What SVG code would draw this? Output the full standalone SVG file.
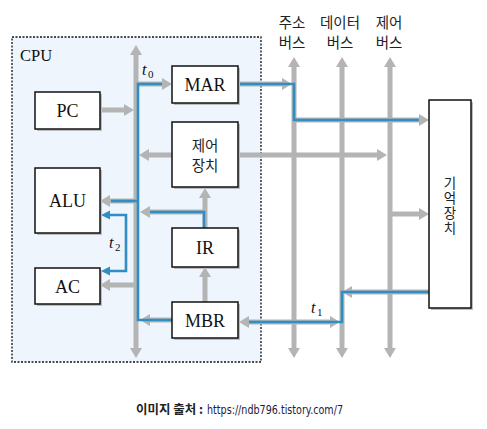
<svg xmlns="http://www.w3.org/2000/svg" width="487" height="429" viewBox="0 0 487 429">
<defs>
<style>
.box{fill:#fff;stroke:#111;stroke-width:1.5}
.sh{fill:#bdbdbd}
.g{stroke:#b4b4b4;stroke-width:5;fill:none}
.b{stroke:#2f8fc4;stroke-width:2.6;fill:none;stroke-linejoin:miter}
.lbl{font-family:"Liberation Serif","DejaVu Serif",serif;font-size:18px;fill:#111;text-anchor:middle}
.cpu{font-family:"Liberation Serif","DejaVu Serif",serif;font-size:16.5px;fill:#111}
.kr{font-family:"Noto Sans CJK KR","Noto Sans",sans-serif;font-size:14.5px;fill:#222;text-anchor:middle}
.mem{font-family:"Noto Sans CJK KR","Noto Sans",sans-serif;font-size:13.5px;fill:#222;writing-mode:vertical-rl;letter-spacing:1.5px}
.t{font-family:"Liberation Serif",serif;font-style:italic;font-size:16px;fill:#111}
.sub{font-family:"Liberation Serif",serif;font-size:11px;fill:#111}
</style>
<marker id="ag" markerUnits="userSpaceOnUse" markerWidth="11" markerHeight="12" refX="0" refY="6" orient="auto-start-reverse">
<path d="M0,0 L10,6 L0,12 z" fill="#b4b4b4"/>
</marker>
</defs>
<rect width="487" height="429" fill="#fff"/>
<rect id="cpu" x="12" y="37" width="249" height="325" fill="#eef5fc" stroke="#111" stroke-width="1.3" stroke-dasharray="2,1.5"/>
<text class="cpu" x="20" y="61">CPU</text>

<g id="connectors">
<line class="g" x1="136" y1="55" x2="136" y2="348" marker-start="url(#ag)" marker-end="url(#ag)"/>
<line class="g" x1="294" y1="67" x2="294" y2="348" marker-start="url(#ag)" marker-end="url(#ag)"/>
<line class="g" x1="342" y1="67" x2="342" y2="348" marker-start="url(#ag)" marker-end="url(#ag)"/>
<line class="g" x1="390" y1="67" x2="390" y2="348" marker-start="url(#ag)" marker-end="url(#ag)"/>
<line class="g" x1="100" y1="110" x2="124" y2="110" marker-end="url(#ag)"/>
<line class="g" x1="138" y1="84" x2="162" y2="84" marker-end="url(#ag)"/>
<line class="g" x1="172" y1="155" x2="149" y2="155" marker-end="url(#ag)"/>
<line class="g" x1="238" y1="155" x2="377" y2="155" marker-end="url(#ag)"/>
<line class="g" x1="136" y1="201" x2="110" y2="201" marker-end="url(#ag)"/>
<line class="g" x1="205" y1="228" x2="205" y2="198" marker-end="url(#ag)"/>
<line class="g" x1="205" y1="212" x2="150" y2="212" marker-end="url(#ag)"/>
<line class="g" x1="136" y1="285" x2="110" y2="285" marker-end="url(#ag)"/>
<line class="g" x1="205" y1="302" x2="205" y2="277" marker-end="url(#ag)"/>
<line class="g" x1="172" y1="320" x2="150" y2="320" marker-end="url(#ag)"/>
<line class="g" x1="249" y1="322" x2="330" y2="322" marker-start="url(#ag)" marker-end="url(#ag)"/>
<line class="g" x1="238" y1="84" x2="282" y2="84" marker-end="url(#ag)"/>
<line class="g" x1="294" y1="120" x2="419" y2="120" marker-end="url(#ag)"/>
<line class="g" x1="390" y1="214" x2="419" y2="214" marker-end="url(#ag)"/>
<line class="g" x1="429" y1="292" x2="352" y2="292" marker-end="url(#ag)"/>
<polyline class="b" points="172,320 138,320 138,84 162,84"/>
<polyline class="b" points="138,201 111,201"/>
<polyline class="b" points="204,228 204,212 150,212"/>
<polyline class="b" points="110,215 126,215 126,271 110,271"/>
<polyline class="b" points="238,84 294,84 294,120 419,120"/>
<polyline class="b" points="249,322 342,322 342,292 429,292"/>
<path d="M110,210.5 L101,215 L110,219.5 z M110,266.5 L101,271 L110,275.5 z" fill="#2f8fc4"/>
</g>

<g id="pc"><rect class="sh" x="37" y="94" width="65" height="37"/><rect class="box" x="35" y="92" width="65" height="37"/><text class="lbl" x="67.5" y="117">PC</text></g>
<g id="mar"><rect class="sh" x="174" y="68" width="66" height="37"/><rect class="box" x="172" y="66" width="66" height="37"/><text class="lbl" x="205" y="91">MAR</text></g>
<g id="control"><rect class="sh" x="174" y="124" width="66" height="65"/><rect class="box" x="172" y="122" width="66" height="65"/><text class="kr" x="205" y="151">제어</text><text class="kr" x="205" y="171">장치</text></g>
<g id="alu"><rect class="sh" x="37" y="170" width="65" height="65"/><rect class="box" x="35" y="168" width="65" height="65"/><text class="lbl" x="67.5" y="207">ALU</text></g>
<g id="ir"><rect class="sh" x="174" y="230" width="66" height="39"/><rect class="box" x="172" y="228" width="66" height="39"/><text class="lbl" x="205" y="254">IR</text></g>
<g id="ac"><rect class="sh" x="37" y="270" width="65" height="36"/><rect class="box" x="35" y="268" width="65" height="36"/><text class="lbl" x="67.5" y="293">AC</text></g>
<g id="mbr"><rect class="sh" x="174" y="304" width="66" height="36"/><rect class="box" x="172" y="302" width="66" height="36"/><text class="lbl" x="205" y="327">MBR</text></g>
<g id="memory"><rect class="sh" x="431" y="102" width="42" height="208"/><rect class="box" x="429" y="100" width="42" height="208"/>
<text class="mem" x="450" y="176">기억장치</text></g>

<g id="labels">
<text class="t" x="142" y="75">t</text><text class="sub" x="148" y="78">0</text>
<text class="t" x="109" y="248">t</text><text class="sub" x="115" y="251">2</text>
<text class="t" x="311" y="313">t</text><text class="sub" x="317" y="316">1</text>
<text class="kr" x="292" y="28">주소</text><text class="kr" x="292" y="48">버스</text>
<text class="kr" x="340" y="28">데이터</text><text class="kr" x="340" y="48">버스</text>
<text class="kr" x="389" y="28">제어</text><text class="kr" x="389" y="48">버스</text>
</g>
<g id="caption">
<text x="136" y="414" font-family="Noto Sans CJK KR,sans-serif" font-size="12.5" font-weight="bold" fill="#222" textLength="67" lengthAdjust="spacingAndGlyphs">이미지 출처 :</text>
<text x="207" y="414" font-family="DejaVu Sans,sans-serif" font-size="12" fill="#1e1a40" textLength="136" lengthAdjust="spacingAndGlyphs">https://ndb796.tistory.com/7</text>
</g>
</svg>
